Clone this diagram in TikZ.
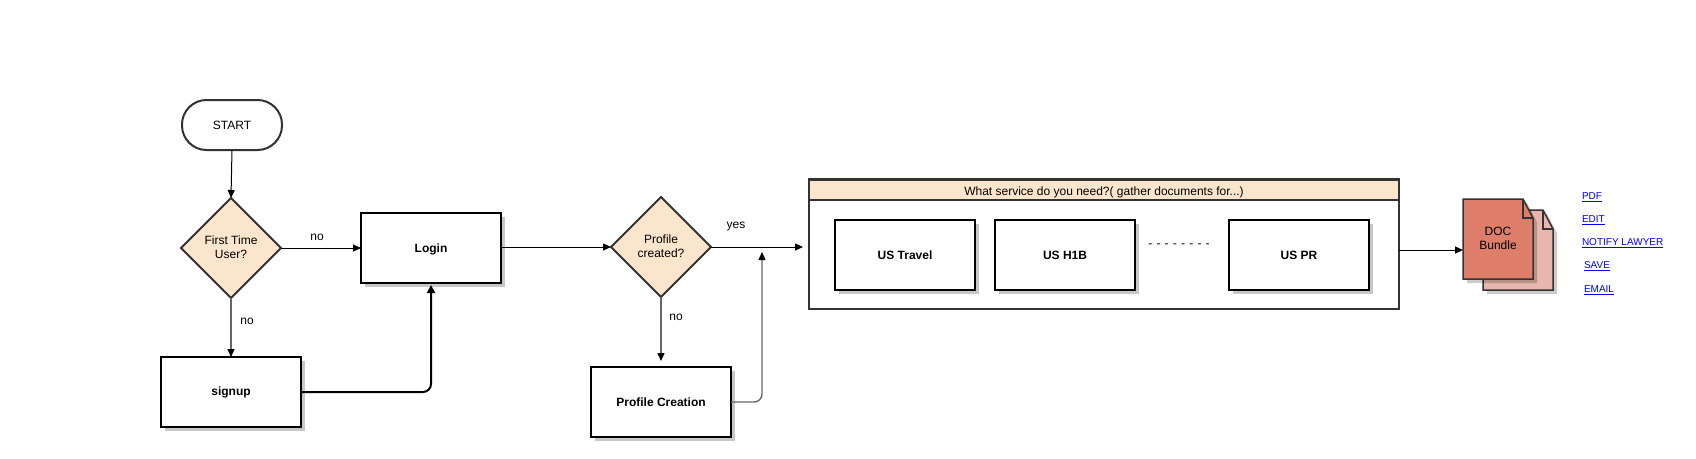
\documentclass[tikz,border=0pt]{standalone}
\usepackage{fontspec}
\setmainfont{Liberation Sans}
\usetikzlibrary{shapes.geometric,shadows,arrows.meta,calc}
\definecolor{peach}{HTML}{FCE5CD}
\definecolor{edge}{HTML}{333333}
\definecolor{docfront}{HTML}{DE7E6A}
\definecolor{docback}{HTML}{E8B6AE}
\definecolor{linkblue}{HTML}{0000EE}
\newcommand{\nudge}[2]{\raisebox{#1}[\height][\depth]{#2}}
\tikzset{
  x=1pt,y=-1pt,
  every node/.style={outer sep=0pt,inner sep=0pt,font=\fontsize{12}{14}\selectfont,align=center},
  softshadow/.style={drop shadow={shadow xshift=4pt,shadow yshift=-4pt,fill=black!22,opacity=1}},
  procbox/.style={draw=black,line width=2pt,fill=white,minimum width=140pt,minimum height=70pt,softshadow,font=\fontsize{12}{14}\selectfont\bfseries},
  decide/.style={diamond,aspect=1,draw=edge,line width=2pt,fill=peach,minimum width=100pt,minimum height=100pt},
  terminal/.style={draw=edge,line width=2pt,rounded corners=24.5pt,minimum width=100pt,minimum height=50pt,fill=white},
  tip/.style={-{Triangle[length=8pt,width=7pt,color=black]}},
  flow/.style={draw=black,line width=1pt,tip},
  flowgrey/.style={draw=black!60,line width=1.4pt,tip},
  flowbold/.style={draw=black,line width=2pt,rounded corners=8pt,-{Triangle[length=8pt,width=8pt]}},
  panel/.style={draw=edge,line width=2pt},
  link/.style={text=linkblue,font=\fontsize{10}{12}\selectfont,anchor=west},
  sheet/.style={draw=edge,line width=1.5pt,line join=miter},
}
\newcommand{\docsheet}[3]{% x, y, fill
  \fill[black,opacity=.2] (#1+4,#2+4) -- ++(60,0) -- ++(10,19) -- ++(0,61) -- ++(-70,0) -- cycle;
  \path[sheet,fill=#3] (#1,#2) -- ++(60,0) -- ++(10,19) -- ++(0,61) -- ++(-70,0) -- cycle;
  \draw[sheet] (#1+60,#2) -- ++(0,19) -- ++(10,0);
}
\begin{document}
\begin{tikzpicture}
\useasboundingbox (0,0) rectangle (1696,458);

\node[terminal] (start) at (232,125) {START};
\node[decide] (first) at (231,248) {\nudge{0.5pt}{First Time}\\\nudge{0.5pt}{User?}};
\node[procbox] (login) at (431,248) {\nudge{-1pt}{Login}};
\node[procbox] (signup) at (231,392) {signup};
\node[decide] (profile) at (661,247) {\nudge{1pt}{Profile}\\\nudge{1pt}{created?}};
\node[procbox] (creation) at (661,402) {Profile Creation};

\node[panel,minimum width=590pt,minimum height=130pt,fill=white] (cont) at (1104,244) {};
\node[panel,minimum width=590pt,minimum height=20pt,fill=peach] (head) at (1104,189.5) {\nudge{-2.5pt}{What service do you need?( gather documents for...)}};
\node[procbox] (travel) at (905,255) {US Travel};
\node[procbox] (h1b) at (1065,255) {US H1B};
\node[procbox] (pr) at (1299,255) {US PR};
\node[text=black] (dots) at (1179,246) {-\hspace{4.2pt}-\hspace{4.2pt}-\hspace{4.2pt}-\hspace{4.2pt}-\hspace{4.2pt}-\hspace{4.2pt}-\hspace{4.2pt}-};

\docsheet{1483}{210}{docback}
\docsheet{1463}{199}{docfront}
\node[minimum width=70pt,minimum height=80pt] (doc) at (1498,238) {DOC\\Bundle};

\node[link] (pdf) at (1582,197) {\underline{PDF}};
\node[link] (edit) at (1582,220) {\underline{EDIT}};
\node[link] (notify) at (1582,243) {\underline{NOTIFY LAWYER}};
\node[link] (save) at (1584,266) {\underline{SAVE}};
\node[link] (email) at (1584,290) {\underline{EMAIL}};

\coordinate (merge) at (762,252);

\draw[flow] (start.south) -- (first.north);
\draw[flow] (first.east) -- (first.east -| login.west);
\draw[flowgrey] (first.south) -- (signup.north);
\draw[flowbold] (signup.east) -| ([yshift=-2pt]login.south);
\draw[flow] (login.east |- profile.west) -- (profile.west);
\draw[flow,shorten >=6pt] (profile.east) -- (profile.east -| cont.west);
\draw[flowgrey,shorten >=6pt] (profile.south) -- (creation.north);
\draw[flowgrey,rounded corners=8pt] (creation.east) -| (merge);
\draw[flow] (cont.east |- doc.west) ++(0,12) coordinate (bundleout) -- (bundleout -| doc.west);

\node (lblnoa) at (317,237) {no};
\node (lblnob) at (247,321) {no};
\node (lblyes) at (736,227) {yes};
\node (lblnoc) at (676,317) {no};
\end{tikzpicture}
\end{document}
